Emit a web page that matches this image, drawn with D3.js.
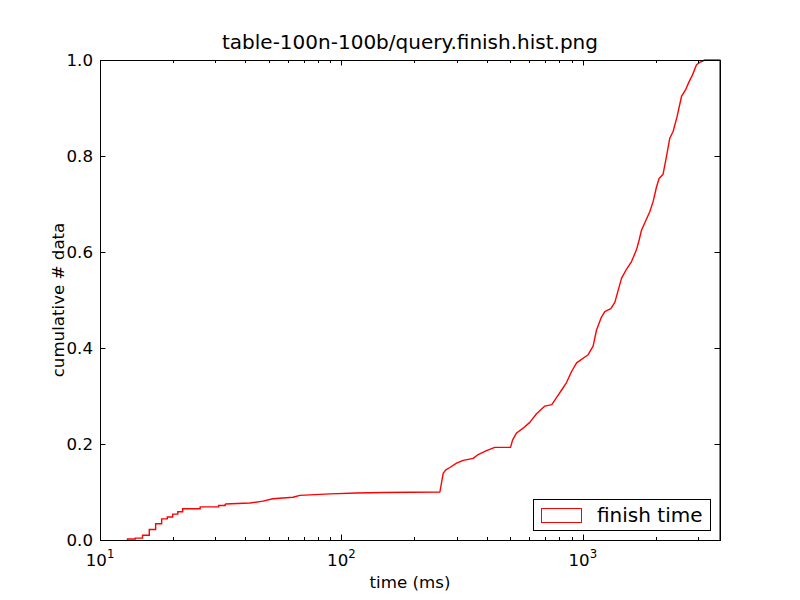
<!DOCTYPE html>
<html>
<head>
<meta charset="utf-8">
<script src="https://cdn.jsdelivr.net/npm/d3@7"></script>
<style>
  body { margin: 0; background: #fff; }
  text { font-family: "DejaVu Sans", sans-serif; fill: #000; }
</style>
</head>
<body>
<svg id="chart" width="800" height="600"></svg>
<script>
// early part: 1 ms bins, drawn as steps
var stepTimes = [13, 14, 15, 16, 17, 18, 19, 20, 21, 22, 26, 31, 33];
var stepCum   = [0.002, 0.004, 0.010, 0.022, 0.034, 0.044, 0.048, 0.054, 0.059, 0.065, 0.069, 0.072, 0.075];

// later part: bins are narrower than a pixel, read as a continuous curve
var curveTimes = [33, 41.8, 47.3, 52, 63, 67.3, 89.6, 115.6, 148.5, 255.8, 264, 270.8, 281.4, 299.9,
  319.5, 351.4, 368.5, 399, 432, 502, 511.5, 531.5, 566, 603, 643, 696, 744, 784, 818, 856, 898,
  942, 1052, 1103, 1139, 1193, 1233, 1306, 1357, 1446, 1516, 1591, 1669, 1711, 1751, 1894, 1955,
  2020, 2070, 2150, 2221, 2292, 2365, 2457, 2563, 2670, 2756, 2847, 2957, 3051, 3201, 3700, 3700];
var curveCum = [0.075, 0.077, 0.081, 0.086, 0.089, 0.093, 0.096, 0.098, 0.099, 0.100, 0.139, 0.146, 0.151, 0.160,
  0.166, 0.170, 0.178, 0.186, 0.193, 0.193, 0.208, 0.223, 0.233, 0.245, 0.263, 0.279, 0.282, 0.299, 0.313, 0.328, 0.351,
  0.369, 0.386, 0.404, 0.437, 0.464, 0.476, 0.482, 0.495, 0.545, 0.564, 0.580, 0.605, 0.625, 0.646, 0.684, 0.705,
  0.736, 0.753, 0.762, 0.799, 0.837, 0.851, 0.882, 0.924, 0.939, 0.955, 0.969, 0.990, 0.995, 1.0, 1.0, 0];

var yTicks = [0, 0.2, 0.4, 0.6, 0.8, 1.0];
var xMajor = [10, 100, 1000];
var xMinor = [20, 30, 40, 50, 60, 70, 80, 90, 200, 300, 400, 500, 600, 700, 800, 900, 2000, 3000];

var svg = d3.select('#chart');
var pLeft = 100, pRight = 720, pTop = 60, pBottom = 540;

var xs = d3.scaleLog().domain([10, 3700]).range([pLeft, pRight]);
var ys = d3.scaleLinear().domain([0, 1]).range([pBottom, pTop]);

var stepData = [[stepTimes[0], 0]].concat(stepTimes.map(function(t, i) { return [t, stepCum[i]]; }));
var curveData = curveTimes.map(function(t, i) { return [t, curveCum[i]]; });

var stepLine = d3.line().x(function(d) { return xs(d[0]); }).y(function(d) { return ys(d[1]); })
  .curve(d3.curveStepAfter);
var smoothLine = d3.line().x(function(d) { return xs(d[0]); }).y(function(d) { return ys(d[1]); });

svg.append('path').attr('d', stepLine(stepData))
  .attr('fill', 'none').attr('stroke', '#ff0000').attr('stroke-width', 1.4);
svg.append('path').attr('d', smoothLine(curveData))
  .attr('fill', 'none').attr('stroke', '#ff0000').attr('stroke-width', 1.4)
  .attr('stroke-linejoin', 'round');

// ticks, pointing inward on all four sides
var tk = svg.append('g').attr('stroke', '#000').attr('stroke-width', 1);
xMajor.forEach(function(v) {
  var x = Math.round(xs(v)) + 0.5;
  tk.append('line').attr('x1', x).attr('x2', x).attr('y1', pBottom).attr('y2', pBottom - 5.5);
  tk.append('line').attr('x1', x).attr('x2', x).attr('y1', pTop).attr('y2', pTop + 5.5);
});
xMinor.forEach(function(v) {
  var x = Math.round(xs(v)) + 0.5;
  tk.append('line').attr('x1', x).attr('x2', x).attr('y1', pBottom).attr('y2', pBottom - 3);
  tk.append('line').attr('x1', x).attr('x2', x).attr('y1', pTop).attr('y2', pTop + 3);
});
yTicks.forEach(function(v) {
  var y = Math.round(ys(v)) + 0.5;
  tk.append('line').attr('x1', pLeft).attr('x2', pLeft + 5.5).attr('y1', y).attr('y2', y);
  tk.append('line').attr('x1', pRight).attr('x2', pRight - 5.5).attr('y1', y).attr('y2', y);
});

// spines
svg.append('rect').attr('x', pLeft + 0.5).attr('y', pTop + 0.5)
  .attr('width', pRight - pLeft).attr('height', pBottom - pTop)
  .attr('fill', 'none').attr('stroke', '#000').attr('stroke-width', 1);

// tick labels
svg.selectAll('.ylab').data(yTicks).enter().append('text')
  .attr('x', 93).attr('y', function(d) { return ys(d) + 6; })
  .attr('text-anchor', 'end').style('font-size', '16.67px')
  .text(function(d) { return d.toFixed(1); });

var xl = svg.selectAll('.xlab').data(xMajor).enter().append('text')
  .attr('x', function(d) { return xs(d); }).attr('y', 566)
  .attr('text-anchor', 'middle').style('font-size', '16.67px');
xl.append('tspan').text('10');
xl.append('tspan').attr('dy', -7.7).style('font-size', '11.7px')
  .text(function(d) { return Math.round(Math.log10(d)); });

// axis labels and title
svg.append('text').attr('x', 410).attr('y', 588).attr('text-anchor', 'middle')
  .style('font-size', '16.67px').text('time (ms)');
svg.append('text').attr('transform', 'translate(64,300) rotate(-90)').attr('text-anchor', 'middle')
  .style('font-size', '16.67px').text('cumulative # data');
svg.append('text').attr('x', 410).attr('y', 49).attr('text-anchor', 'middle')
  .style('font-size', '20px').text('table-100n-100b/query.finish.hist.png');

// legend
var lg = svg.append('g');
lg.append('rect').attr('x', 533.5).attr('y', 499.5).attr('width', 177).attr('height', 31)
  .attr('fill', '#fff').attr('stroke', '#000').attr('stroke-width', 1);
lg.append('rect').attr('x', 541.5).attr('y', 508.5).attr('width', 40).attr('height', 14)
  .attr('fill', '#fff').attr('stroke', '#ff0000').attr('stroke-width', 1);
lg.append('text').attr('x', 597).attr('y', 522).style('font-size', '20px').text('finish time');
</script>
</body>
</html>
